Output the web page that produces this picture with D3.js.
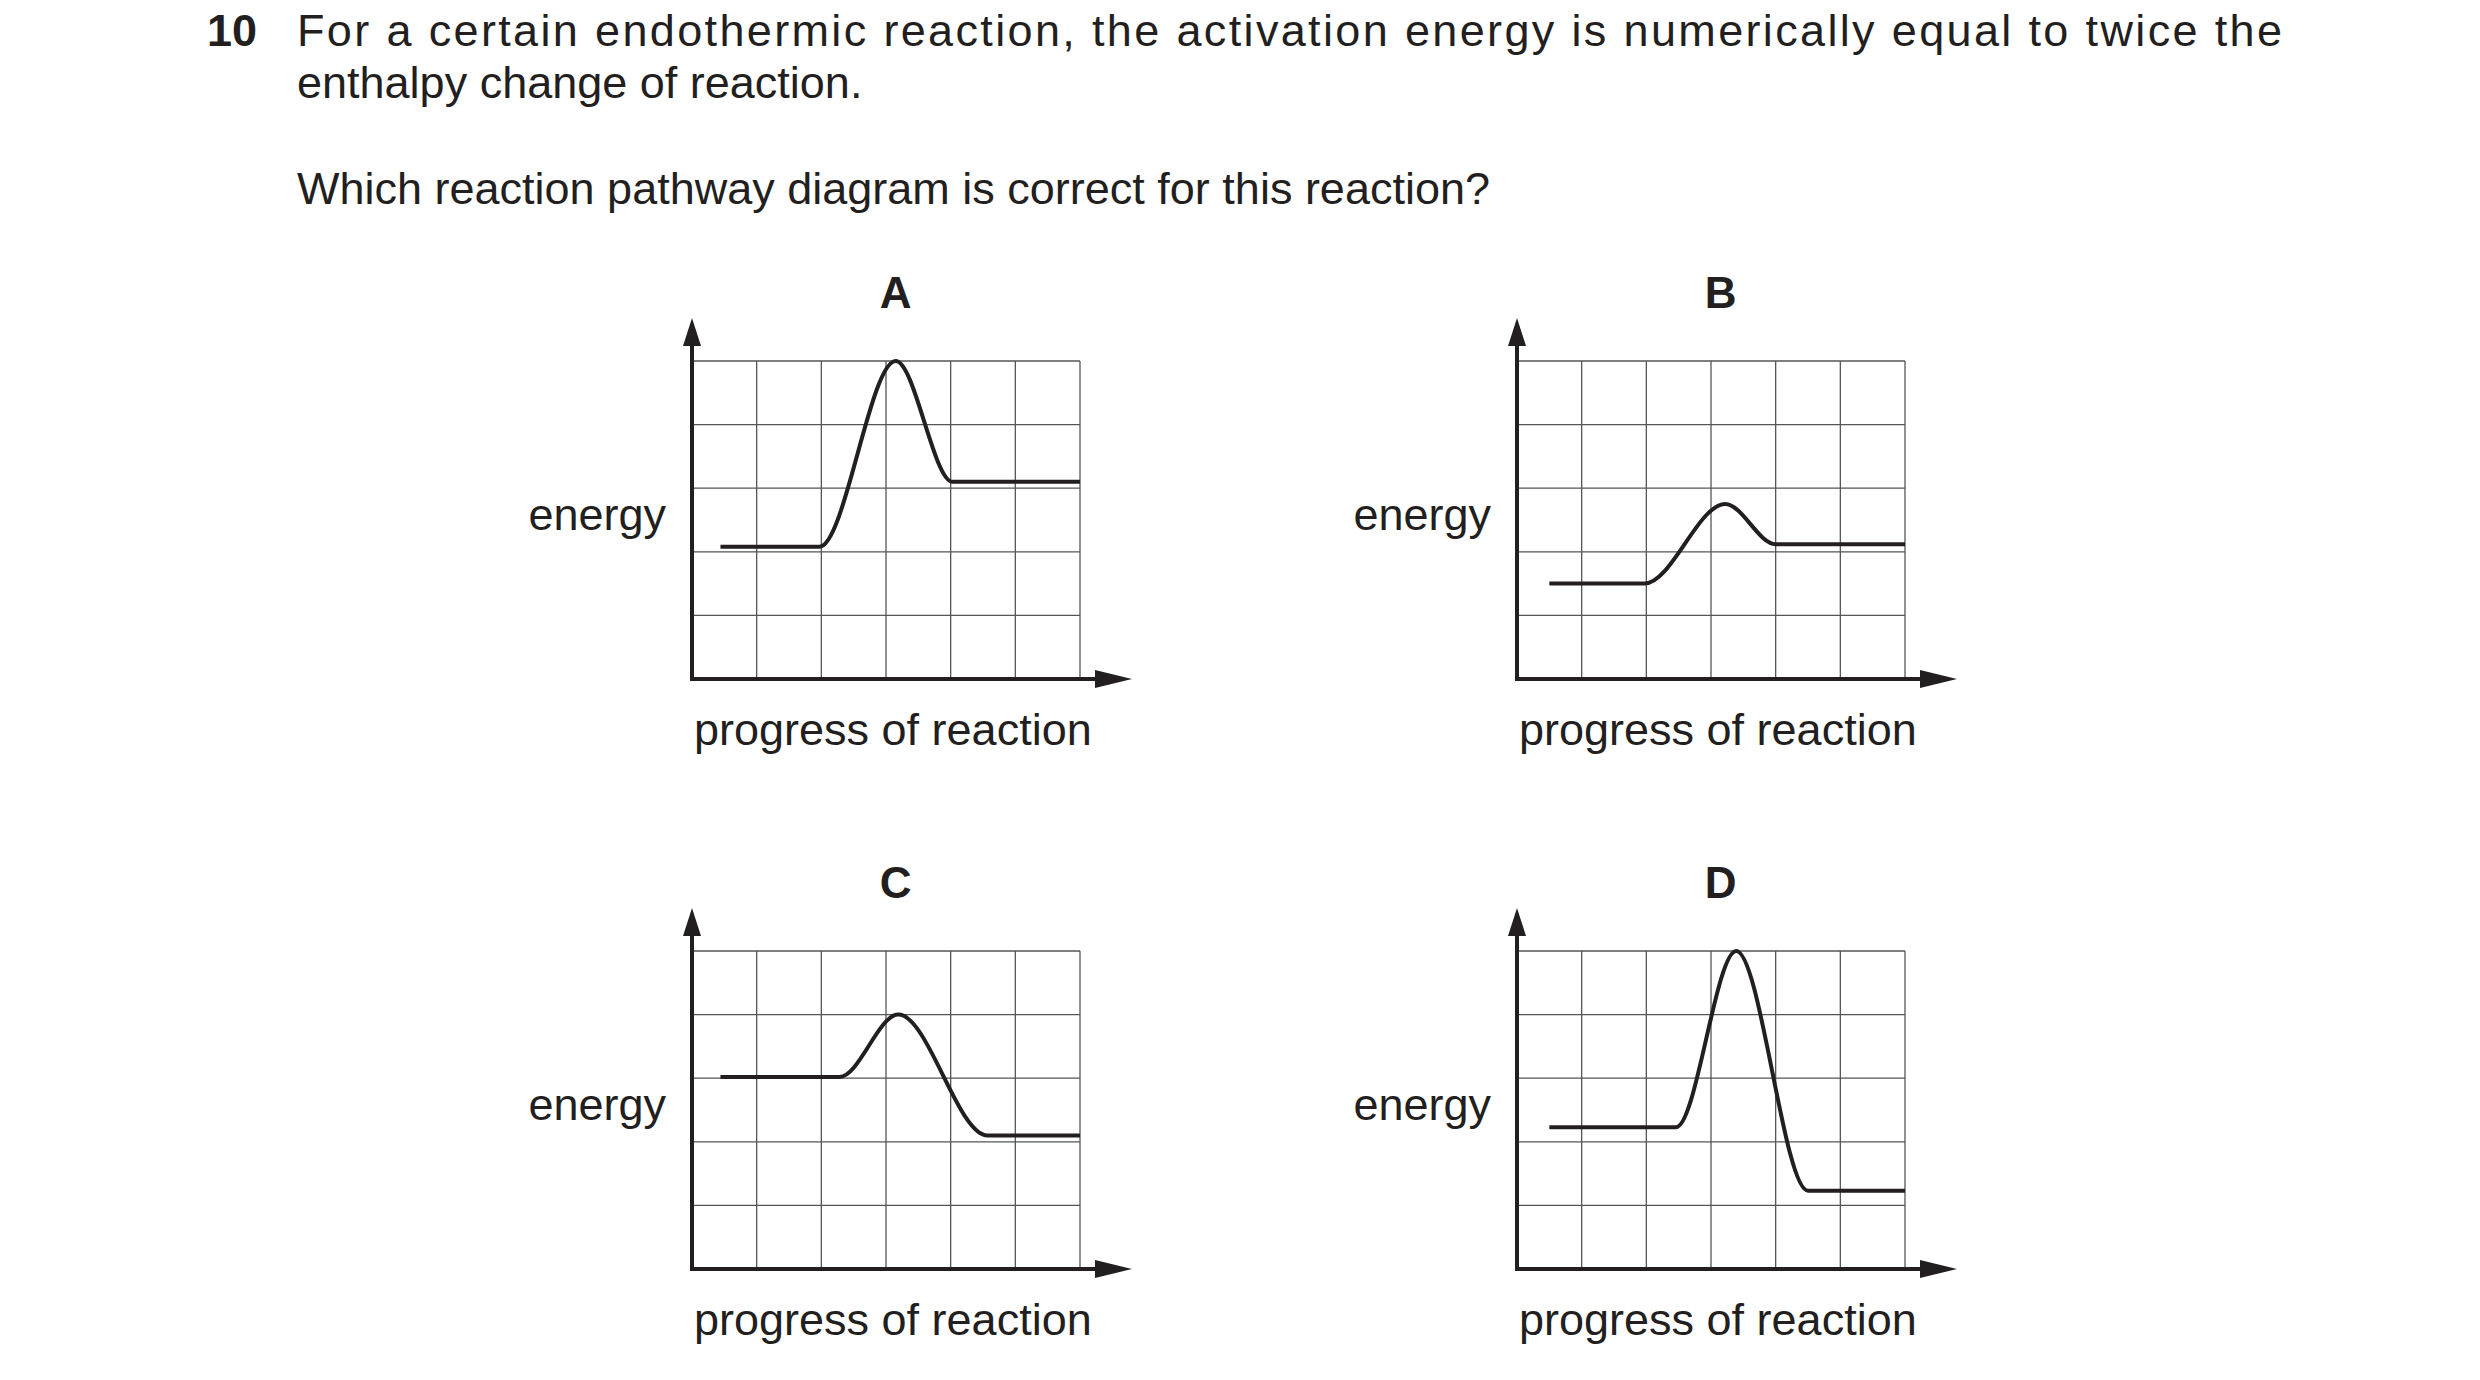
<!DOCTYPE html>
<html><head><meta charset="utf-8">
<script src="https://cdn.jsdelivr.net/npm/d3@7"></script>
<style>body{margin:0;background:#fff}</style></head>
<body><svg id="c" width="2480" height="1380"></svg>
<script>
const panels = ["A","B","C","D"];
// key points [progress (grid cols 0-6), energy (grid rows 0-5)]
const curveA = [[0.44,2.08],[1.97,2.08],[3.15,5.0],[4.03,3.1],[6,3.1]];
const curveB = [[0.5,1.5],[1.97,1.5],[3.22,2.75],[4.0,2.12],[6,2.12]];
const curveC = [[0.44,3.02],[2.28,3.02],[3.19,4.0],[4.57,2.1],[6,2.1]];
const curveD = [[0.5,2.23],[2.46,2.23],[3.39,5.0],[4.5,1.23],[6,1.23]];
const curves = [curveA,curveB,curveC,curveD];
const xTicks = [0,1,2,3,4,5,6];
const yTicks = [0,1,2,3,4,5];

const svg = d3.select("#c");
const font = "Liberation Sans, Arial, sans-serif";
const q = svg.append("g").attr("font-family",font).attr("font-size",45).attr("fill","#231f20");
q.append("text").attr("x",207).attr("y",46).attr("font-weight","bold").text("10");
q.append("text").attr("x",297).attr("y",46).attr("textLength",1985).attr("lengthAdjust","spacing")
 .text("For a certain endothermic reaction, the activation energy is numerically equal to twice the");
q.append("text").attr("x",297).attr("y",98).text("enthalpy change of reaction.");
q.append("text").attr("x",297).attr("y",204).text("Which reaction pathway diagram is correct for this reaction?");

const W = 388, H = 318;
const offs = [[692,361],[1517,361],[692,951],[1517,951]];
panels.forEach((p,i)=>{
  const [ox,oy] = offs[i];
  const g = svg.append("g").attr("transform",`translate(${ox},${oy})`);
  const x = d3.scaleLinear().domain([0,6]).range([0,W]);
  const y = d3.scaleLinear().domain([0,5]).range([H,0]);
  g.selectAll(".vx").data(xTicks.slice(1)).join("line")
    .attr("x1",d=>x(d)).attr("x2",d=>x(d)).attr("y1",0).attr("y2",H)
    .attr("stroke","#555").attr("stroke-width",1.3);
  g.selectAll(".hy").data(yTicks.slice(1)).join("line")
    .attr("x1",0).attr("x2",W).attr("y1",d=>y(d)).attr("y2",d=>y(d))
    .attr("stroke","#555").attr("stroke-width",1.3);
  g.append("line").attr("x1",0).attr("x2",0).attr("y1",H+2).attr("y2",-15).attr("stroke","#231f20").attr("stroke-width",4);
  g.append("path").attr("d",`M-9,-15 L9,-15 L0,-43 Z`).attr("fill","#231f20");
  g.append("line").attr("x1",-2).attr("x2",W+20).attr("y1",H).attr("y2",H).attr("stroke","#231f20").attr("stroke-width",4);
  g.append("path").attr("d",`M${W+15},${H-9} L${W+15},${H+9} L${W+52},${H} Z`).attr("fill","#231f20");
  g.append("path").datum(curves[i])
    .attr("d",d3.line().x(d=>x(d[0])).y(d=>y(d[1])).curve(d3.curveMonotoneX))
    .attr("fill","none").attr("stroke","#231f20").attr("stroke-width",4);
  const t = g.append("g").attr("font-family",font).attr("fill","#231f20");
  t.append("text").attr("x",x(3.15)).attr("y",-53).attr("text-anchor","middle").attr("font-size",44).attr("font-weight","bold").text(p);
  t.append("text").attr("x",-26).attr("y",y(2.3)-3).attr("text-anchor","end").attr("font-size",45).text("energy");
  t.append("text").attr("x",2).attr("y",H+66).attr("font-size",45).text("progress of reaction");
});
</script></body></html>
